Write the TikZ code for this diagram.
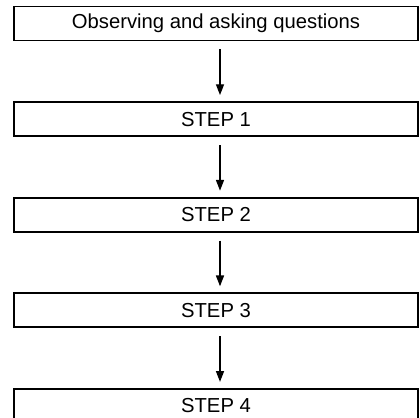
\documentclass[tikz,border=0pt]{standalone}
\usepackage{fontspec}
\setmainfont{Liberation Sans}
\usetikzlibrary{positioning,arrows.meta}

\begin{document}
\begin{tikzpicture}[x=0.025cm,y=-0.025cm,
    step_box/.style={rectangle,draw,line width=1.4pt,minimum width=10.1cm,minimum height=0.85cm,inner sep=0pt,font=\fontsize{14.4}{16}\selectfont},
    step_arrow/.style={-{Triangle[width=0.2cm,length=0.27cm]},line width=1pt,shorten <=0.2cm,shorten >=0.15cm},
    node distance=1.49cm]
    \useasboundingbox (0,0) rectangle (420,418);

    \node[step_box] (obs) at (216,23.5) {Observing and asking questions};
    \node[step_box,below=of obs] (s1) {STEP 1};
    \node[step_box,below=of s1] (s2) {STEP 2};
    \node[step_box,below=of s2] (s3) {STEP 3};
    \node[step_box,below=of s3] (s4) {STEP 4};
    \foreach \a/\b in {obs/s1,s1/s2,s2/s3,s3/s4}
        \draw[step_arrow] ([xshift=0.1cm]\a.south) -- ([xshift=0.1cm]\b.north);
\end{tikzpicture}
\end{document}
